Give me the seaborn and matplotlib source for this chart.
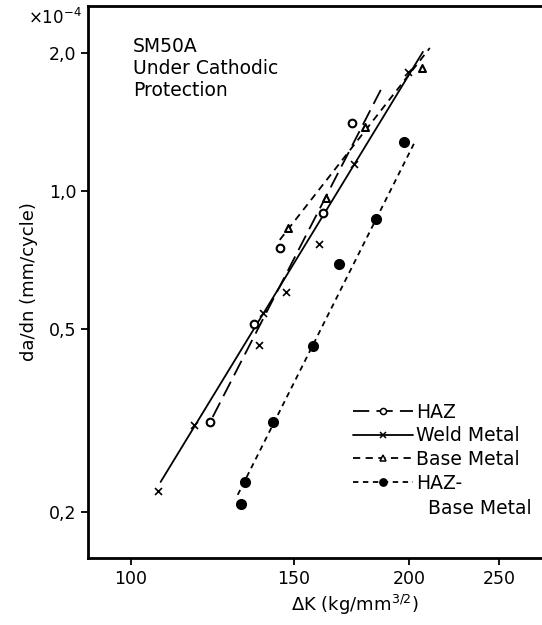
import numpy as np
import pandas as pd
import matplotlib
matplotlib.use("Agg")
import matplotlib.pyplot as plt
from matplotlib.lines import Line2D
import seaborn as sns

# data (delta K in kg/mm^3/2, da/dn in 1e-4 mm/cycle)
haz_k = [121.7, 135.8, 144.9, 161.2, 173.4]
haz_rate = [0.314, 0.514, 0.752, 0.896, 1.408]

weld_k = [106.9, 117.0, 137.5, 138.9, 147.1, 159.7, 174.2, 199.3]
weld_rate = [0.222, 0.309, 0.462, 0.543, 0.603, 0.767, 1.146, 1.818]

base_k = [147.8, 162.5, 179.1, 206.3]
base_rate = [0.831, 0.966, 1.380, 1.855]

hazbase_k = [131.5, 132.8, 142.4, 157.3, 167.9, 184.0, 197.3]
hazbase_rate = [0.208, 0.232, 0.314, 0.460, 0.694, 0.870, 1.280]

# hand drawn trend lines (end points)
haz_fit_k, haz_fit_rate = [122.6, 186.3], [0.322, 1.661]
weld_fit_k, weld_fit_rate = [107.7, 206.9], [0.2325, 2.01]
base_fit_k, base_fit_rate = [144.9, 210.5], [0.783, 2.05]
hazbase_fit_k, hazbase_fit_rate = [130.5, 202.8], [0.218, 1.28]

x_ticks = [100, 150, 200, 250]
y_ticks = [0.2, 0.5, 1.0, 2.0]
y_ticklabels = ["0,2", "0,5", "1,0", "2,0"]

sns.set_style("ticks")
plt.rcParams['font.family'] = ['DejaVu Sans']
plt.rcParams['text.color'] = 'black'
plt.rcParams['axes.labelcolor'] = 'black'
plt.rcParams['xtick.color'] = 'black'
plt.rcParams['ytick.color'] = 'black'

fig = plt.figure(figsize=(5.42, 6.25), dpi=100)
ax = fig.add_axes([88 / 542, 1 - 558 / 625, (622 - 88) / 542, (558 - 6) / 625])

lw = 1.3
series = [
    ("HAZ", haz_k, haz_rate, haz_fit_k, haz_fit_rate, (0, (9, 4)), "o", "white", 5.5),
    ("Weld Metal", weld_k, weld_rate, weld_fit_k, weld_fit_rate, "-", "x", "black", 5),
    ("Base Metal", base_k, base_rate, base_fit_k, base_fit_rate, (0, (4, 3)), "^", "white", 5),
    ("HAZ-", hazbase_k, hazbase_rate, hazbase_fit_k, hazbase_fit_rate, (0, (3, 2.5)), "o", "black", 6.5),
]

handles = []
for name, k, r, fk, fr, ls, mk, fc, ms in series:
    fit = pd.DataFrame({"k": fk, "rate": fr})
    sns.lineplot(data=fit, x="k", y="rate", ax=ax, color="black", lw=lw,
                 linestyle=ls, estimator=None, sort=False)
    pts = pd.DataFrame({"k": k, "rate": r})
    if mk == "x":
        sns.scatterplot(data=pts, x="k", y="rate", ax=ax, marker="x", color="black",
                        s=ms ** 2, linewidth=1.2, zorder=3)
    else:
        sns.scatterplot(data=pts, x="k", y="rate", ax=ax, marker=mk, facecolor=fc,
                        edgecolor="black", s=ms ** 2, linewidth=1.5, zorder=3)
    handles.append(Line2D([], [], color="black", lw=lw, linestyle=ls, marker=mk,
                          markerfacecolor=fc, markeredgecolor="black",
                          markersize=ms * 0.8, markeredgewidth=1.1, label=name))

ax.set_xscale("log")
ax.set_yscale("log")
ax.set_xlim(89.9, 339.6)
ax.set_ylim(0.1588, 2.53)
ax.set_xticks(x_ticks)
ax.set_xticklabels([str(t) for t in x_ticks])
ax.set_yticks(y_ticks)
ax.set_yticklabels(y_ticklabels)
ax.minorticks_off()
ax.tick_params(axis="both", labelsize=12.5, length=5, width=1.3, direction="out", color="black")
for side in ["left", "bottom", "top"]:
    ax.spines[side].set_linewidth(2)
    ax.spines[side].set_color("black")
ax.spines["right"].set_visible(False)

ax.set_xlabel(r"$\Delta$K (kg/mm$^{3/2}$)", fontsize=13)
ax.set_ylabel("da/dn (mm/cycle)", fontsize=13, labelpad=8)
fig.text(82 / 542, 1 - 18 / 625, r"$\times10^{-4}$", ha="right", va="center", fontsize=12)

ax.text((133 - 88) / 534, 1 - (68 - 6) / 552, "SM50A\nUnder Cathodic\nProtection",
        transform=ax.transAxes, fontsize=13.5, va="center", ha="left", linespacing=1.2)

leg = ax.legend(handles=handles, loc="upper left", bbox_to_anchor=((345 - 88) / 534, 1 - (395 - 6) / 552),
                frameon=False, fontsize=13.5, handlelength=3.2, handletextpad=0.2,
                labelspacing=0.25, borderaxespad=0)
ax.text((428 - 88) / 534, 1 - (508 - 6) / 552, "Base Metal", transform=ax.transAxes,
        fontsize=13.5, va="center", ha="left")

fig.savefig("out.png", dpi=100)
